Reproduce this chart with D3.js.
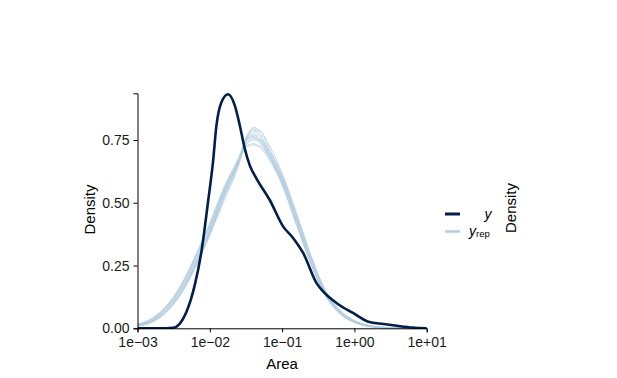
<!DOCTYPE html>
<meta charset="utf-8">
<style>
body { margin: 0; background: #fff; }
text { font-family: "Liberation Sans", Arial, sans-serif; }
.axis path, .axis line { stroke: #000; }
.axis text { font-size: 14px; fill: #1a1a1a; }
</style>
<svg width="617" height="378"></svg>
<script src="https://cdn.jsdelivr.net/npm/d3@7"></script>
<script>

// x positions are log10(Area)
var xTicks = [1e-3, 1e-2, 1e-1, 1, 10];
var xTickLabels = ["1e\u221203", "1e\u221202", "1e\u221201", "1e+00", "1e+01"];
var yTicks = [0, 0.25, 0.5, 0.75];

var yLog = [-3, -2.7, -2.51, -2.417, -2.325, -2.21, -2.117, -2.025, -1.956, -1.908, -1.839, -1.748,
  -1.655, -1.585, -1.516, -1.447, -1.354, -1.169, -0.985, -0.846, -0.707, -0.521, -0.43, -0.244,
  -0.014, 0.194, 0.402, 0.588, 0.8, 1.0];
var yDens = [0, 0, 0.002, 0.018, 0.064, 0.17, 0.303, 0.502, 0.662, 0.808, 0.90, 0.932,
  0.888, 0.808, 0.715, 0.649, 0.596, 0.51, 0.405, 0.359, 0.299, 0.179, 0.146, 0.10,
  0.06, 0.026, 0.017, 0.01, 0.003, 0];

var repLog = [-3, -2.8, -2.6, -2.4, -2.2, -2.0, -1.8, -1.6, -1.5, -1.4, -1.3, -1.2, -1.0, -0.8,
  -0.6, -0.4, -0.2, 0, 0.2, 0.4, 0.6, 0.8];
var rep1 = [0.012,0.03,0.075,0.15,0.26,0.39,0.54,0.67,0.74,0.765,0.745,0.70,0.59,0.43,0.27,0.14,0.065,0.027,0.009,0.003,0.001,0];
var rep2 = [0.008,0.024,0.064,0.135,0.24,0.37,0.51,0.65,0.75,0.80,0.785,0.73,0.60,0.43,0.26,0.13,0.058,0.023,0.007,0.002,0.001,0];
var rep3 = [0.016,0.038,0.088,0.17,0.285,0.415,0.565,0.675,0.725,0.735,0.72,0.68,0.57,0.41,0.255,0.132,0.06,0.025,0.009,0.003,0.001,0];
var rep4 = [0.010,0.027,0.068,0.14,0.25,0.38,0.525,0.655,0.745,0.79,0.785,0.74,0.62,0.46,0.29,0.15,0.07,0.03,0.011,0.004,0.001,0];
var rep5 = [0.014,0.035,0.083,0.163,0.278,0.41,0.555,0.68,0.745,0.76,0.735,0.69,0.575,0.415,0.258,0.133,0.061,0.025,0.008,0.002,0.001,0];
var rep6 = [0.009,0.025,0.066,0.138,0.245,0.375,0.52,0.66,0.755,0.785,0.765,0.72,0.605,0.445,0.28,0.146,0.068,0.029,0.01,0.003,0.001,0];
var rep7 = [0.017,0.04,0.09,0.172,0.288,0.42,0.56,0.665,0.72,0.73,0.725,0.69,0.59,0.44,0.28,0.148,0.07,0.03,0.011,0.004,0.001,0];
var rep8 = [0.011,0.028,0.071,0.146,0.255,0.385,0.535,0.67,0.76,0.795,0.77,0.71,0.58,0.42,0.262,0.136,0.061,0.025,0.008,0.002,0.001,0];
var rep9 = [0.013,0.033,0.08,0.158,0.27,0.40,0.548,0.668,0.732,0.75,0.742,0.705,0.6,0.445,0.284,0.15,0.072,0.031,0.012,0.004,0.001,0];
var rep10 = [0.012,0.031,0.077,0.153,0.262,0.392,0.542,0.672,0.752,0.775,0.755,0.71,0.592,0.432,0.27,0.14,0.065,0.027,0.009,0.003,0.001,0];
var rep11 = [0.015,0.036,0.085,0.165,0.28,0.405,0.545,0.66,0.73,0.755,0.75,0.715,0.61,0.45,0.285,0.147,0.068,0.028,0.01,0.003,0.001,0];
var rep12 = [0.009,0.026,0.067,0.14,0.248,0.38,0.53,0.665,0.748,0.77,0.748,0.698,0.578,0.418,0.258,0.132,0.059,0.024,0.008,0.002,0.001,0];
var reps = [rep1, rep2, rep3, rep4, rep5, rep6, rep7, rep8, rep9, rep10, rep11, rep12];

var dark = "#011f4b", light = "#b3cde0";

var svg = d3.select("svg");
var x = d3.scaleLog().domain([1e-3, 10]).range([137.5, 426.7]);
var y = d3.scaleLinear().domain([0, 0.936]).range([328.3, 93.3]);

svg.append("clipPath").attr("id", "clip")
  .append("rect").attr("x", 137.5).attr("y", 80).attr("width", 290).attr("height", 249);

var line = d3.line()
  .x(function(d) { return x(Math.pow(10, d[0])); })
  .y(function(d) { return y(d[1]); })
  .curve(d3.curveMonotoneX);

var plot = svg.append("g").attr("clip-path", "url(#clip)");

plot.selectAll(".rep")
  .data(reps)
  .enter().append("path")
    .attr("class", "rep")
    .attr("d", function(r) { return line(d3.zip(repLog, r)); })
    .attr("fill", "none")
    .attr("stroke", light)
    .attr("stroke-width", 1)
    .attr("stroke-opacity", 0.75);

plot.append("path")
  .attr("d", line(d3.zip(yLog, yDens)))
  .attr("fill", "none")
  .attr("stroke", dark)
  .attr("stroke-width", 2.6);

svg.append("g")
  .attr("class", "axis")
  .attr("transform", "translate(0,328.3)")
  .call(d3.axisBottom(x).tickValues(xTicks).tickSize(4).tickPadding(5)
    .tickFormat(function(d, i) { return xTickLabels[i]; }));

svg.append("g")
  .attr("class", "axis")
  .attr("transform", "translate(137.5,0)")
  .call(d3.axisLeft(y).tickValues(yTicks).tickSize(4).tickPadding(4).tickFormat(d3.format(".2f")));

svg.selectAll(".axis .domain").attr("stroke-width", 1);

svg.append("text")
  .attr("x", 282).attr("y", 369)
  .attr("text-anchor", "middle")
  .style("font-size", "15px").attr("fill", "#000")
  .text("Area");

svg.append("text")
  .attr("transform", "translate(94.5,209.5) rotate(-90)")
  .attr("text-anchor", "middle")
  .style("font-size", "15px").attr("fill", "#000")
  .text("Density");

// legend
var leg = svg.append("g");
leg.append("line").attr("x1", 445).attr("x2", 460).attr("y1", 214).attr("y2", 214)
  .attr("stroke", dark).attr("stroke-width", 3);
leg.append("line").attr("x1", 445).attr("x2", 460).attr("y1", 231.5).attr("y2", 231.5)
  .attr("stroke", light).attr("stroke-width", 2.5);
leg.append("text").attr("x", 488).attr("y", 219)
  .attr("text-anchor", "middle")
  .style("font-size", "14px").style("font-style", "italic").attr("fill", "#000")
  .text("y");
var yr = leg.append("text").attr("x", 469).attr("y", 236)
  .style("font-size", "14px").attr("fill", "#000");
yr.append("tspan").style("font-style", "italic").text("y");
yr.append("tspan").attr("dy", 1).style("font-size", "9.5px").text("rep");

svg.append("text")
  .attr("transform", "translate(515.5,208) rotate(-90)")
  .attr("text-anchor", "middle")
  .style("font-size", "15px").attr("fill", "#000")
  .text("Density");

</script>
